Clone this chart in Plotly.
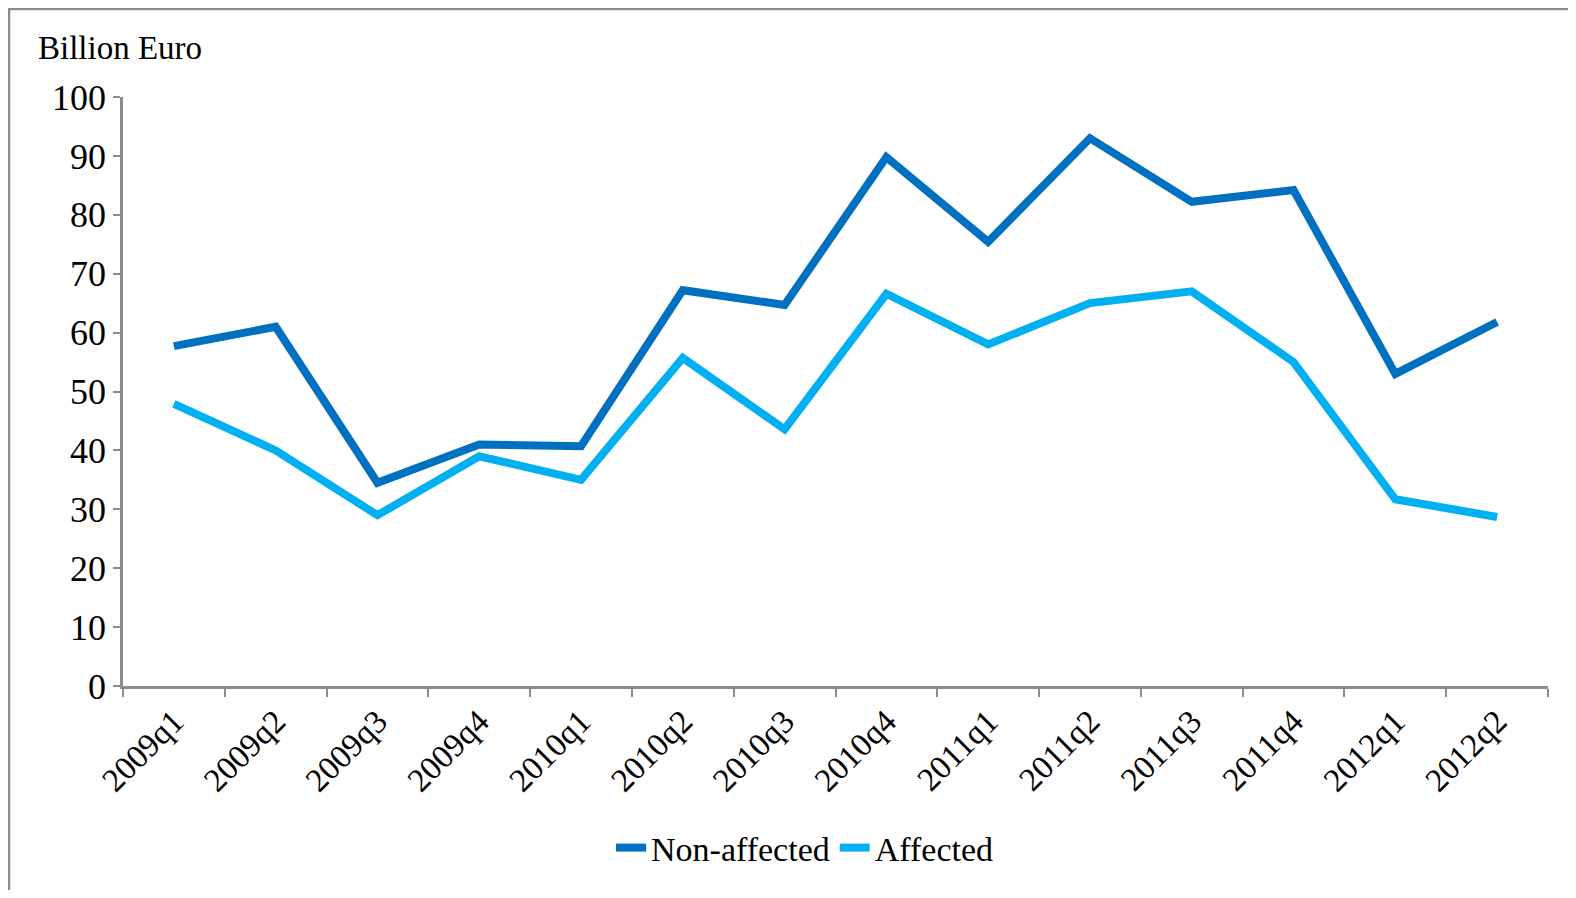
import plotly.graph_objects as go

quarters = ["2009q1", "2009q2", "2009q3", "2009q4", "2010q1", "2010q2", "2010q3",
            "2010q4", "2011q1", "2011q2", "2011q3", "2011q4", "2012q1", "2012q2"]
non_affected = [57.7, 61.0, 34.5, 41.0, 40.7, 67.2, 64.7, 89.8, 75.4, 93.0, 82.2, 84.2, 53.0, 61.8]
affected = [47.9, 40.0, 29.0, 39.0, 35.0, 55.7, 43.6, 66.6, 58.0, 65.0, 67.0, 55.0, 31.7, 28.7]

# page body has an 8px margin; figure placed at screen (8, 8)
OFF = 8
W, H = 1560, 882
ML, MR, MT, MB = 123 - OFF, (OFF + W) - 1548, 97 - OFF, (OFF + H) - 686
PW, PH = W - ML - MR, H - MT - MB
font = "Liberation Serif, Times New Roman, serif"

fig = go.Figure()
fig.add_trace(go.Scatter(x=quarters, y=non_affected, mode="lines", name="Non-affected",
                         line=dict(color="#0070C0", width=8)))
fig.add_trace(go.Scatter(x=quarters, y=affected, mode="lines", name="Affected",
                         line=dict(color="#00B0F0", width=8)))

fig.update_layout(
    width=W, height=H,
    margin=dict(l=ML, r=MR, t=MT, b=MB, autoexpand=False),
    paper_bgcolor="white", plot_bgcolor="white",
    font=dict(family=font, size=34, color="#000"),
    showlegend=True,
    legend=dict(orientation="h", x=(805 - 123) / PW, xanchor="center", y=-(848 - 686) / PH,
                yanchor="middle", bgcolor="rgba(0,0,0,0)",
                font=dict(family=font, size=34, color="#000"), tracegroupgap=0),
    xaxis=dict(type="category", range=[-0.5, 13.5], tickangle=-45, automargin=False,
               showline=True, linecolor="#8c8c8c", linewidth=2.5,
               ticks="outside", tickson="boundaries", ticklen=8, tickcolor="#8c8c8c",
               tickwidth=2, showgrid=False, zeroline=False,
               tickfont=dict(family=font, size=33, color="#000")),
    yaxis=dict(range=[0, 100], dtick=10, showline=True, linecolor="#8c8c8c", linewidth=2.5,
               automargin=False,
               ticks="outside", ticklen=7, tickcolor="#8c8c8c", tickwidth=2,
               showgrid=False, zeroline=False, tickfont=dict(family=font, size=36, color="#000")),
    annotations=[dict(text="Billion Euro", xref="paper", yref="paper",
                      x=(36 - 123) / PW, y=1 + (97 - 48) / PH,
                      xanchor="left", yanchor="middle", showarrow=False,
                      font=dict(family=font, size=33, color="#000"))],
    shapes=[dict(type="rect", xref="paper", yref="paper",
                 x0=-(ML - 1) / PW, x1=(W + 20 - ML) / PW,
                 y0=-(MB + 20) / PH, y1=1 + (MT - 1) / PH,
                 line=dict(color="#8c8c8c", width=2.5), fillcolor="rgba(0,0,0,0)",
                 layer="below")],
)

fig.write_html("out.html")
